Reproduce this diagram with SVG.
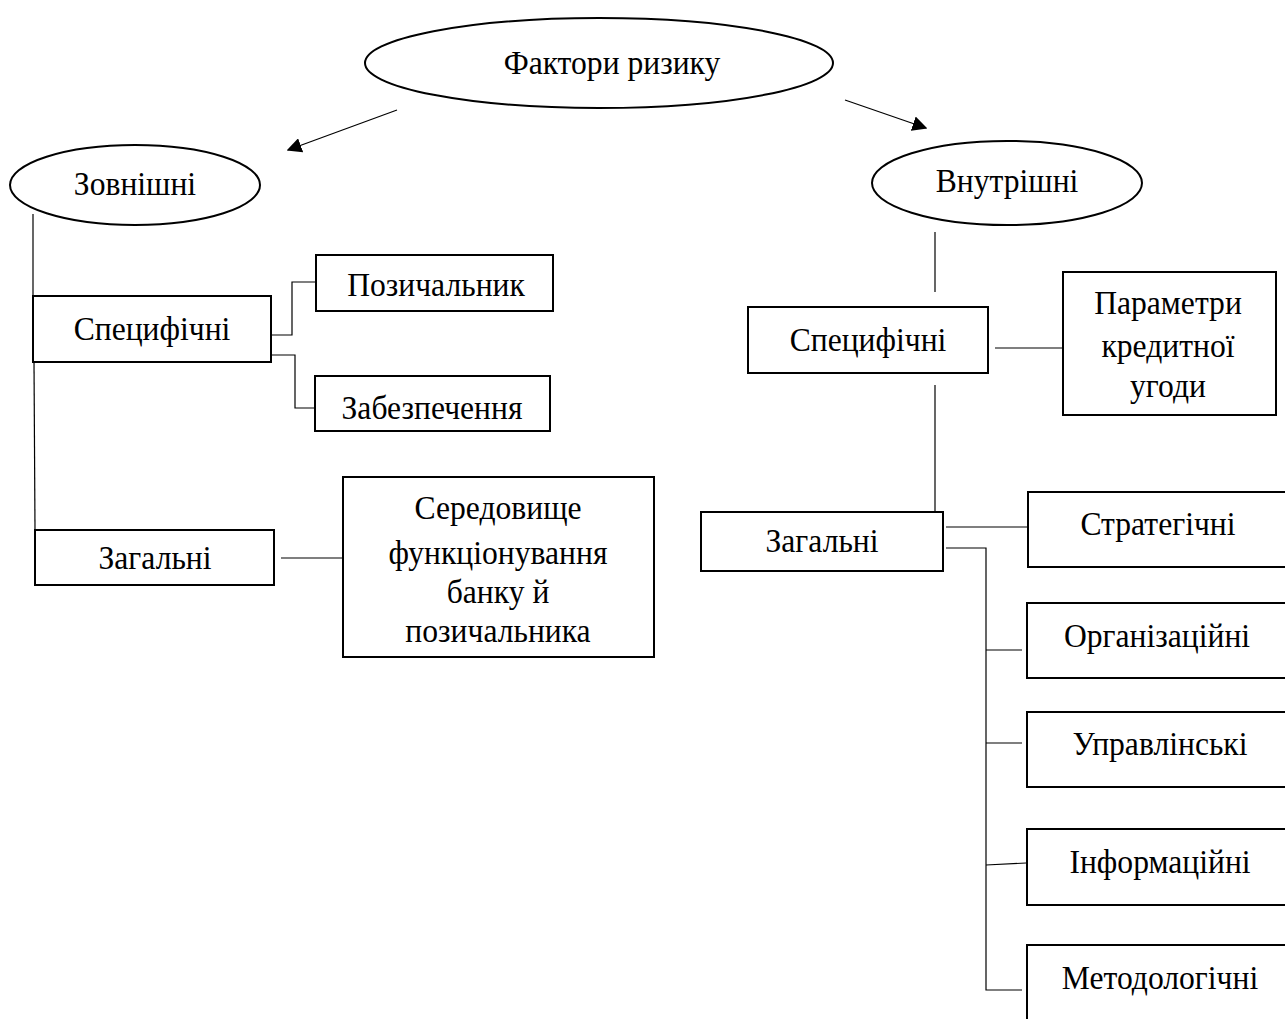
<svg xmlns="http://www.w3.org/2000/svg" width="1285" height="1019" viewBox="0 0 1285 1019">
  <style>
    .shape { fill: #ffffff; stroke: #000000; stroke-width: 2; }
    .link { fill: none; stroke: #000000; stroke-width: 1.2; }
    .label { font-family: "Liberation Serif", "Times New Roman", serif; font-size: 34px; fill: #000000; text-anchor: middle; dominant-baseline: central; }
  </style>
  <defs>
    <marker id="arrow" viewBox="0 0 10 10" refX="9" refY="5" markerWidth="15" markerHeight="15" markerUnits="userSpaceOnUse" orient="auto">
      <path d="M0,0 L10,5 L0,10 z" fill="#000000"/>
    </marker>
  </defs>
  <rect width="1285" height="1019" fill="#ffffff"/>

  <!-- connectors -->
  <g id="connectors">
    <line class="link" x1="397" y1="110" x2="288" y2="150" marker-end="url(#arrow)"/>
    <line class="link" x1="845" y1="100" x2="926" y2="128" marker-end="url(#arrow)"/>
    <!-- external branch -->
    <polyline class="link" points="33,214 33,296"/>
    <polyline class="link" points="34,362 35,530"/>
    <polyline class="link" points="271,335 292,335 292,282 316,282"/>
    <polyline class="link" points="271,355 295,355 295,408 315,408"/>
    <line class="link" x1="281" y1="558" x2="343" y2="558"/>
    <!-- internal branch -->
    <line class="link" x1="935" y1="232" x2="935" y2="292"/>
    <line class="link" x1="995" y1="348" x2="1062" y2="348"/>
    <line class="link" x1="935" y1="385" x2="935" y2="511"/>
    <line class="link" x1="946" y1="527" x2="1027" y2="527"/>
    <polyline class="link" points="946,548 986,548 986,990 1022,990"/>
    <line class="link" x1="986" y1="650" x2="1022" y2="650"/>
    <line class="link" x1="986" y1="743" x2="1022" y2="743"/>
    <line class="link" x1="986" y1="865" x2="1026" y2="863"/>
  </g>

  <g id="node-factors">
    <ellipse class="shape" cx="599" cy="63" rx="234" ry="45"/>
    <text class="label" transform="translate(612,63) scale(0.93,1)">Фактори ризику</text>
  </g>

  <g id="node-external">
    <ellipse class="shape" cx="135" cy="185" rx="125" ry="40"/>
    <text class="label" transform="translate(135,184) scale(0.93,1)">Зовнішні</text>
  </g>

  <g id="node-ext-specific">
    <rect class="shape" x="33" y="296" width="238" height="66"/>
    <text class="label" transform="translate(152,329) scale(0.93,1)">Специфічні</text>
  </g>

  <g id="node-borrower">
    <rect class="shape" x="316" y="255" width="237" height="56"/>
    <text class="label" transform="translate(436,285) scale(0.93,1)">Позичальник</text>
  </g>

  <g id="node-collateral">
    <rect class="shape" x="315" y="376" width="235" height="55"/>
    <text class="label" transform="translate(432,408) scale(0.93,1)">Забезпечення</text>
  </g>

  <g id="node-ext-general">
    <rect class="shape" x="35" y="530" width="239" height="55"/>
    <text class="label" transform="translate(155,558) scale(0.93,1)">Загальні</text>
  </g>

  <g id="node-environment">
    <rect class="shape" x="343" y="477" width="311" height="180"/>
    <text class="label" transform="translate(498,508) scale(0.93,1)">Середовище</text>
    <text class="label" transform="translate(498,553) scale(0.93,1)">функціонування</text>
    <text class="label" transform="translate(498,592) scale(0.93,1)">банку й</text>
    <text class="label" transform="translate(498,631) scale(0.93,1)">позичальника</text>
  </g>

  <g id="node-internal">
    <ellipse class="shape" cx="1007" cy="183" rx="135" ry="42"/>
    <text class="label" transform="translate(1007,181) scale(0.93,1)">Внутрішні</text>
  </g>

  <g id="node-int-specific">
    <rect class="shape" x="748" y="307" width="240" height="66"/>
    <text class="label" transform="translate(868,340) scale(0.93,1)">Специфічні</text>
  </g>

  <g id="node-loan-terms">
    <rect class="shape" x="1063" y="272" width="213" height="143"/>
    <text class="label" transform="translate(1168,303) scale(0.93,1)">Параметри</text>
    <text class="label" transform="translate(1168,346) scale(0.93,1)">кредитної</text>
    <text class="label" transform="translate(1168,386) scale(0.93,1)">угоди</text>
  </g>

  <g id="node-int-general">
    <rect class="shape" x="701" y="512" width="242" height="59"/>
    <text class="label" transform="translate(822,541) scale(0.93,1)">Загальні</text>
  </g>

  <g id="node-strategic">
    <rect class="shape" x="1028" y="492" width="270" height="75"/>
    <text class="label" transform="translate(1158,524) scale(0.93,1)">Стратегічні</text>
  </g>

  <g id="node-organizational">
    <rect class="shape" x="1027" y="603" width="270" height="75"/>
    <text class="label" transform="translate(1157,636) scale(0.93,1)">Організаційні</text>
  </g>

  <g id="node-managerial">
    <rect class="shape" x="1027" y="712" width="270" height="75"/>
    <text class="label" transform="translate(1160,744) scale(0.93,1)">Управлінські</text>
  </g>

  <g id="node-informational">
    <rect class="shape" x="1027" y="829" width="270" height="76"/>
    <text class="label" transform="translate(1160,862) scale(0.93,1)">Інформаційні</text>
  </g>

  <g id="node-methodological">
    <rect class="shape" x="1027" y="945" width="270" height="90"/>
    <text class="label" transform="translate(1160,978) scale(0.93,1)">Методологічні</text>
  </g>
</svg>
